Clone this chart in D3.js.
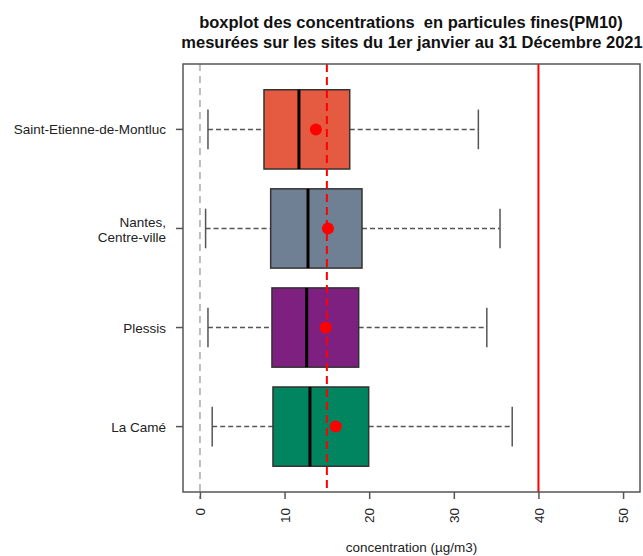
<!DOCTYPE html>
<html>
<head>
<meta charset="utf-8">
<script src="https://cdn.jsdelivr.net/npm/d3@7"></script>
<style>
  body { margin: 0; background: #fff; }
  svg text { font-family: "Liberation Sans", Arial, sans-serif; }
</style>
</head>
<body>
<div id="chart"></div>
<script>
// sites, bas -> haut
const sites = ["La Camé", "Plessis", "Nantes,\nCentre-ville", "Saint-Etienne-de-Montluc"];
const colors = ["#008560", "#7D207F", "#708094", "#E55B41"];
const mins = [1.45, 0.95, 0.67, 0.95];
const q1s = [8.63, 8.51, 8.36, 7.57];
const medians = [13.0, 12.61, 12.77, 11.7];
const q3s = [19.94, 18.76, 19.15, 17.7];
const maxs = [36.9, 33.9, 35.46, 32.9];
const means = [16.04, 14.86, 15.13, 13.7];
const xTicks = [0, 10, 20, 30, 40, 50];
const refZero = 0;
const refOms = 15;     // ligne rouge pointillée
const refLimit = 40;   // valeur limite

const width = 643, height = 556;
const plotLeft = 183, plotRight = 640, plotTop = 64, plotBottom = 492;

const svg = d3.select("#chart").append("svg")
    .attr("width", width)
    .attr("height", height);

const x = d3.scaleLinear().domain([-2, 52]).range([plotLeft, plotRight]);
const y = d3.scaleLinear().domain([0.34, sites.length + 0.66]).range([plotBottom, plotTop]);
const boxH = y(0) - y(0.8);
const capH = y(0) - y(0.4);

// Titre
const title = svg.append("text")
    .attr("text-anchor", "middle")
    .style("font-size", "16.5px")
    .style("font-weight", "bold")
    .style("fill", "#111")
    .style("white-space", "pre");
title.append("tspan").attr("x", 411).attr("y", 28).text("boxplot des concentrations  en particules fines(PM10)");
title.append("tspan").attr("x", 412).attr("y", 48).text("mesurées sur les sites du 1er janvier au 31 Décembre 2021");

// Lignes de référence
svg.append("line")
    .attr("x1", x(refZero)).attr("x2", x(refZero))
    .attr("y1", plotTop).attr("y2", plotBottom + 7)
    .style("stroke", "#bdbdbd")
    .style("stroke-width", "2px")
    .style("stroke-dasharray", "7,5");

// Boîtes
sites.forEach((s, i) => {
    const cy = y(i + 1);
    const g = svg.append("g");
    // moustaches
    g.append("line")
        .attr("x1", x(mins[i])).attr("x2", x(q1s[i]))
        .attr("y1", cy).attr("y2", cy)
        .style("stroke", "#555").style("stroke-width", "1.5px")
        .style("stroke-dasharray", "5,3");
    g.append("line")
        .attr("x1", x(q3s[i])).attr("x2", x(maxs[i]))
        .attr("y1", cy).attr("y2", cy)
        .style("stroke", "#555").style("stroke-width", "1.5px")
        .style("stroke-dasharray", "5,3");
    [mins[i], maxs[i]].forEach(v => {
        g.append("line")
            .attr("x1", x(v)).attr("x2", x(v))
            .attr("y1", cy - capH / 2).attr("y2", cy + capH / 2)
            .style("stroke", "#555").style("stroke-width", "1.5px");
    });
    g.append("rect")
        .attr("x", x(q1s[i]))
        .attr("y", cy - boxH / 2)
        .attr("width", x(q3s[i]) - x(q1s[i]))
        .attr("height", boxH)
        .style("fill", colors[i])
        .style("stroke", "#333")
        .style("stroke-width", "1.5px");
    g.append("line")
        .attr("x1", x(medians[i])).attr("x2", x(medians[i]))
        .attr("y1", cy - boxH / 2).attr("y2", cy + boxH / 2)
        .style("stroke", "#000").style("stroke-width", "3px");
});

svg.append("line")
    .attr("x1", x(refOms)).attr("x2", x(refOms))
    .attr("y1", plotTop).attr("y2", plotBottom)
    .style("stroke", "#ff0000")
    .style("stroke-width", "2px")
    .style("stroke-dasharray", "8,5");
svg.append("line")
    .attr("x1", x(refLimit)).attr("x2", x(refLimit))
    .attr("y1", plotTop).attr("y2", plotBottom)
    .style("stroke", "#ff0000")
    .style("stroke-width", "2px");

// Moyennes
svg.selectAll("circle.mean")
    .data(means)
    .join("circle")
    .attr("class", "mean")
    .attr("cx", d => x(d))
    .attr("cy", (d, i) => y(i + 1))
    .attr("r", 6)
    .style("fill", "#ff0000");

// Cadre
svg.append("rect")
    .attr("x", plotLeft).attr("y", plotTop)
    .attr("width", plotRight - plotLeft).attr("height", plotBottom - plotTop)
    .style("fill", "none")
    .style("stroke", "#555")
    .style("stroke-width", "1.5px");

// Axe X
const xAxis = svg.append("g")
    .attr("transform", `translate(0,${plotBottom})`)
    .call(d3.axisBottom(x).tickValues(xTicks).tickSize(7).tickSizeOuter(0));
xAxis.select(".domain").remove();
xAxis.selectAll("line").style("stroke", "#555").style("stroke-width", "1.5px");
xAxis.selectAll("text")
    .attr("transform", "rotate(-90)")
    .attr("x", -16).attr("y", 0).attr("dy", "0.35em")
    .style("text-anchor", "end")
    .style("font-size", "13.5px")
    .style("fill", "#222");

svg.append("text")
    .attr("x", (plotLeft + plotRight) / 2)
    .attr("y", 552)
    .attr("text-anchor", "middle")
    .style("font-size", "13.5px")
    .style("fill", "#222")
    .text("concentration (µg/m3)");

// Axe Y
sites.forEach((s, i) => {
    const cy = y(i + 1);
    svg.append("line")
        .attr("x1", plotLeft - 7).attr("x2", plotLeft)
        .attr("y1", cy).attr("y2", cy)
        .style("stroke", "#555").style("stroke-width", "1.5px");
    const lines = s.split("\n");
    const t = svg.append("text")
        .attr("text-anchor", "end")
        .style("font-size", "13.5px")
        .style("fill", "#222");
    lines.forEach((l, k) => {
        t.append("tspan")
            .attr("x", plotLeft - 17)
            .attr("y", cy + 5 + (lines.length > 1 ? 1.5 : 0) + (k - (lines.length - 1) / 2) * 15)
            .text(l);
    });
});
</script>
</body>
</html>
